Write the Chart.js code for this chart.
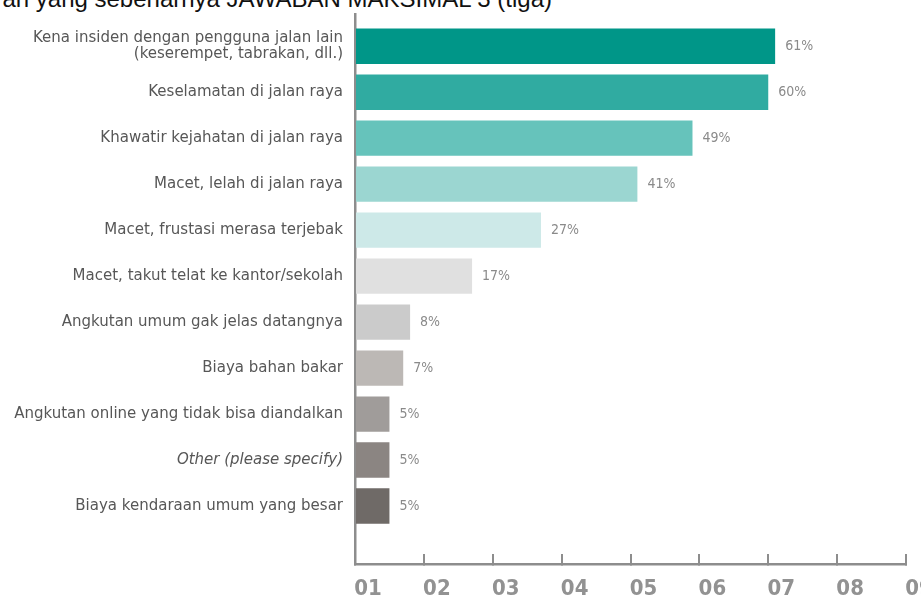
<!DOCTYPE html>
<html>
<head>
<meta charset="utf-8">
<script src="https://cdn.jsdelivr.net/npm/chart.js@4/dist/chart.umd.min.js"></script>
<style>
    html, body { margin: 0; padding: 0; background: #fff; overflow: hidden; }
    #wrap { position: relative; width: 921px; height: 596px; }
    #title {
        position: absolute; right: 369px; top: -15px; white-space: nowrap;
        font: 24px "Liberation Sans", Arial, sans-serif; color: #111;
    }
    #chart { position: absolute; left: 0; top: 0; }
</style>
</head>
<body>
<div id="wrap">
    <div id="title">Kekhawatiran yang sebenarnya JAWABAN MAKSIMAL 3 (tiga)</div>
    <canvas id="chart" width="921" height="596"></canvas>
</div>
<script>
const categories = [
    ['Kena insiden dengan pengguna jalan lain', '(keserempet, tabrakan, dll.)'],
    'Keselamatan di jalan raya',
    'Khawatir kejahatan di jalan raya',
    'Macet, lelah di jalan raya',
    'Macet, frustasi merasa terjebak',
    'Macet, takut telat ke kantor/sekolah',
    'Angkutan umum gak jelas datangnya',
    'Biaya bahan bakar',
    'Angkutan online yang tidak bisa diandalkan',
    'Other (please specify)',
    'Biaya kendaraan umum yang besar'
];
const values = [61, 60, 49, 41, 27, 17, 8, 7, 5, 5, 5];
const barColors = [
    '#009688', '#30aba1', '#66c3bb', '#9bd6d1', '#cde9e8', '#e0e0e0',
    '#cbcbcb', '#bcb8b5', '#a09c9a', '#8b8582', '#6f6a67'
];
const xTickLabels = ['01', '02', '03', '04', '05', '06', '07', '08', '09'];

const axisGrey = '#8d8d8d';

// percentage text just right of each bar
const valueLabels = {
    id: 'valueLabels',
    afterDatasetsDraw(chart) {
        const ctx = chart.ctx;
        const meta = chart.getDatasetMeta(0);
        ctx.save();
        ctx.font = '14px "DejaVu Sans Condensed"';
        ctx.fillStyle = '#8a8a8a';
        ctx.textBaseline = 'middle';
        meta.data.forEach((bar, i) => {
            ctx.fillText(values[i] + '%', bar.x + 10, bar.y);
        });
        ctx.restore();
    }
};

new Chart(document.getElementById('chart'), {
    type: 'bar',
    data: {
        datasets: [{
            data: values.map((v, i) => ({ x: v, y: i })),
            backgroundColor: barColors,
            borderWidth: 0,
            barPercentage: 0.77,
            categoryPercentage: 1
        }]
    },
    options: {
        indexAxis: 'y',
        responsive: false,
        animation: false,
        layout: { padding: { top: 14, right: 15, left: 0, bottom: 0 } },
        plugins: {
            legend: { display: false },
            tooltip: { enabled: false }
        },
        scales: {
            y: {
                type: 'linear',
                reverse: true,
                offset: false,
                min: -0.7,
                max: 11.26,
                afterFit: scale => {
                    scale.width = 355;
                    scale.paddingTop = 0;
                    scale.paddingBottom = 0;
                },
                afterBuildTicks: scale => {
                    scale.ticks = scale.ticks.filter(t => Number.isInteger(t.value));
                },
                grid: { display: false },
                border: { display: true, color: axisGrey, width: 2.5 },
                ticks: {
                    stepSize: 1,
                    autoSkip: false,
                    padding: 4,
                    color: '#575757',
                    font: ctx => ({
                        family: '"DejaVu Sans"',
                        size: 15,
                        lineHeight: 1.05,
                        style: ctx.tick && ctx.tick.value === 9 ? 'italic' : 'normal'
                    }),
                    callback: v => (Number.isInteger(v) && categories[v] !== undefined) ? categories[v] : ''
                }
            },
            x: {
                type: 'linear',
                min: 0,
                max: 80,
                afterFit: scale => {
                    scale.height = 32;
                    scale.paddingLeft = 0;
                    scale.paddingRight = 0;
                },
                grid: {
                    drawOnChartArea: false,
                    drawTicks: true,
                    tickLength: -10,
                    color: axisGrey,
                    lineWidth: 2
                },
                border: { display: true, color: axisGrey, width: 2.5 },
                ticks: {
                    stepSize: 10,
                    padding: 22,
                    labelOffset: 13,
                    maxRotation: 0,
                    color: '#929292',
                    font: { family: '"DejaVu Sans Condensed"', size: 22, weight: 'bold' },
                    callback: v => xTickLabels[v / 10]
                }
            }
        }
    },
    plugins: [valueLabels]
});
</script>
</body>
</html>
